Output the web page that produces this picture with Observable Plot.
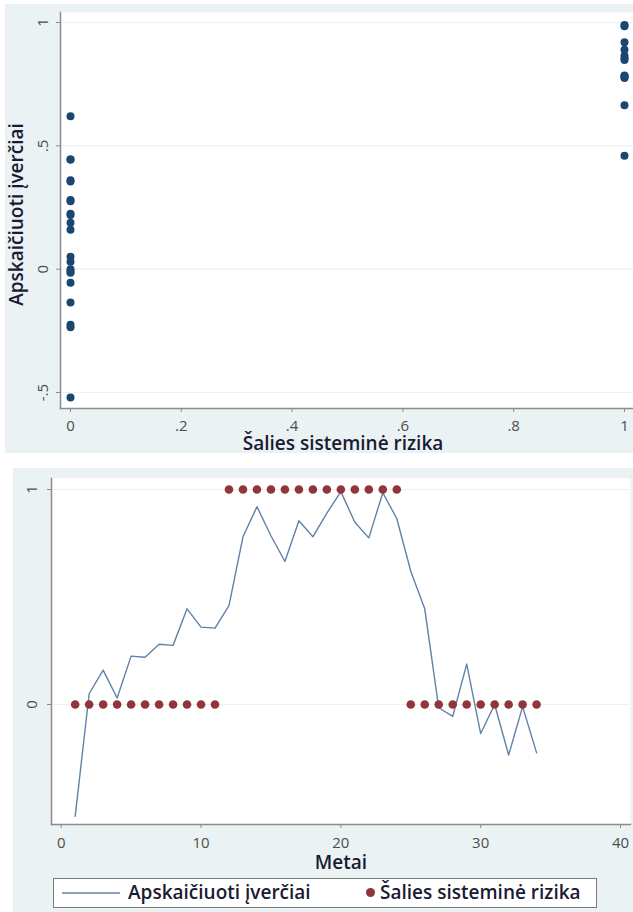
<!DOCTYPE html>
<html><head><meta charset="utf-8">
<script src="https://cdn.jsdelivr.net/npm/d3@7"></script>
<script src="https://cdn.jsdelivr.net/npm/@observablehq/plot@0.6"></script>
<style>
body{margin:0;background:#fff;}
#wrap{position:relative;width:633px;height:912px;overflow:hidden;font-family:"Open Sans",sans-serif;}
.bg{position:absolute;background:#eaf2f3;}
#top,#bot{position:absolute;left:0;}
#legend{position:absolute;left:53px;top:878px;width:544px;height:30px;box-sizing:border-box;border:1.5px solid #7a7a7a;background:#fff;}
#legend .sw{position:absolute;left:8px;top:13px;width:58px;height:2px;background:#8aa2bd;}
#legend .dt{position:absolute;left:312px;top:9px;width:9px;height:9px;border-radius:50%;background:#90353b;}
#legend .lb{position:absolute;top:0px;font-size:19px;font-weight:600;line-height:27px;color:#1a1a33;white-space:nowrap;}
</style></head><body>
<div id="wrap">
  <div class="bg" style="left:5px;top:4px;width:628px;height:449px"></div>
  <div class="bg" style="left:13px;top:468px;width:620px;height:444px"></div>
  <div id="top" style="top:0px"></div>
  <div id="bot" style="top:468px"></div>
  <div id="legend"></div>
</div>
<script>
// ---- data ----
const years = [1,2,3,4,5,6,7,8,9,10,11,12,13,14,15,16,17,18,19,20,21,22,23,24,25,26,27,28,29,30,31,32,33,34];
const estimates = [-0.52,0.05,0.16,0.03,0.225,0.22,0.28,0.275,0.445,0.36,0.355,0.46,0.78,0.92,0.785,0.665,0.855,0.78,0.89,0.99,0.848,0.775,0.985,0.865,0.62,0.445,-0.015,-0.055,0.188,-0.135,0.0,-0.235,-0.01,-0.225];
const risk = [0,0,0,0,0,0,0,0,0,0,0,1,1,1,1,1,1,1,1,1,1,1,1,1,0,0,0,0,0,0,0,0,0,0];
const topXTicks = [0,0.2,0.4,0.6,0.8,1];
const topYTicks = [-0.5,0,0.5,1];
const botXTicks = [0,10,20,30,40];
const botYTicks = [0,1];
const seriesNames = ["Apskaičiuoti įverčiai","Šalies sisteminė rizika"];
const topXTitle = "Šalies sisteminė rizika";
const topYTitle = "Apskaičiuoti įverčiai";
const botXTitle = "Metai";

const rows = years.map((y,i) => ({year:y, est:estimates[i], risk:risk[i]}));
const fmt = d => d === 0 ? "0" : String(d).replace(/^(-?)0\./, "$1.");

const bg = "#eaf2f3", axisCol = "#8c8c8c", tickText = "#4d4d4d", titleCol = "#1a1a33";
const titleStyle = {fontSize:19, fontWeight:600, fill:titleCol, fontFamily:"Open Sans", textAnchor:"middle", lineAnchor:"middle"};

const topPlot = Plot.plot({
  width:633, height:455, marginLeft:60, marginTop:12, marginRight:0, marginBottom:47,
  style:{background:"transparent", fontFamily:"Open Sans", overflow:"visible"},
  x:{domain:[0,1], range:[70,624]},
  y:{domain:[-0.5,1], range:[392,22]},
  marks:[
    Plot.frame({fill:"white", stroke:"none"}),
    Plot.gridY(topYTicks, {stroke:bg, strokeOpacity:1, strokeWidth:1.2}),
    Plot.frame({anchor:"left", stroke:axisCol, strokeWidth:1.5}),
    Plot.frame({anchor:"bottom", stroke:axisCol, strokeWidth:1.5}),
    Plot.axisX(topXTicks, {tickFormat:fmt, tickSize:4, tickPadding:8, fontSize:15, label:null, stroke:axisCol, fill:tickText}),
    Plot.axisY(topYTicks, {tickFormat:fmt, tickSize:4, tickRotate:-90, tickPadding:9, fontSize:15, label:null, stroke:axisCol, fill:tickText}),
    Plot.dot(rows, {x:"risk", y:"est", r:4, fill:"#1a476f", stroke:"none"}),
    Plot.text([topXTitle], {text:d=>d, frameAnchor:"bottom", dx:-4, dy:35, ...titleStyle}),
    Plot.text([topYTitle], {text:d=>d, frameAnchor:"left", dx:-44, dy:4, rotate:-90, ...titleStyle})
  ]
});
document.getElementById("top").appendChild(topPlot);

const botPlot = Plot.plot({
  width:633, height:402, marginLeft:51, marginTop:10, marginRight:3, marginBottom:46,
  style:{background:"transparent", fontFamily:"Open Sans", overflow:"visible"},
  x:{domain:[0,40], range:[60.7,620]},
  y:{domain:[0,1], range:[236,21]},
  marks:[
    Plot.frame({fill:"white", stroke:"none"}),
    Plot.gridY(botYTicks, {stroke:bg, strokeOpacity:1, strokeWidth:1.2}),
    Plot.frame({anchor:"left", stroke:axisCol, strokeWidth:1.5}),
    Plot.frame({anchor:"bottom", stroke:axisCol, strokeWidth:1.5}),
    Plot.axisX(botXTicks, {tickSize:4, tickPadding:9, fontSize:15, label:null, stroke:axisCol, fill:tickText}),
    Plot.axisY(botYTicks, {tickFormat:fmt, tickSize:4, tickRotate:-90, tickPadding:11, fontSize:15, label:null, stroke:axisCol, fill:tickText}),
    Plot.line(rows, {x:"year", y:"est", stroke:"#5f82a8", strokeWidth:1.4}),
    Plot.dot(rows, {x:"year", y:"risk", r:4.3, fill:"#90353b", stroke:"none"}),
    Plot.text([botXTitle], {text:d=>d, frameAnchor:"bottom", dy:38, ...titleStyle})
  ]
});
document.getElementById("bot").appendChild(botPlot);

// legend (HTML, below the SVG)
const leg = document.getElementById("legend");
leg.innerHTML = `<span class="sw"></span><span class="lb" style="left:74px">${seriesNames[0]}</span>
<span class="dt"></span><span class="lb" style="left:326px">${seriesNames[1]}</span>`;
</script>
</body></html>
